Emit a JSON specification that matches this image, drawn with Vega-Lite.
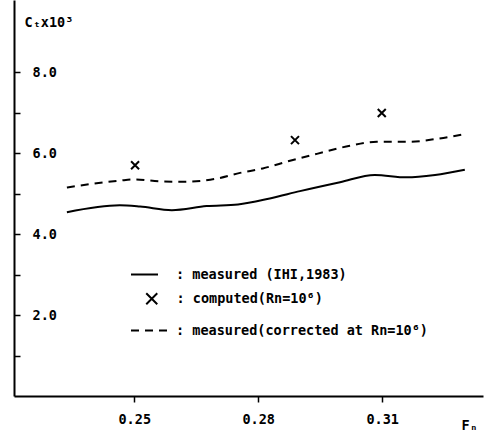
{
  "$schema": "https://vega.github.io/schema/vega-lite/v6.json",
  "width": 469,
  "height": 396,
  "autosize": "none",
  "padding": {"left": 14, "top": 0, "right": 3, "bottom": 44},
  "background": "white",
  "config": {
    "view": {"stroke": null},
    "font": "DejaVu Sans Mono",
    "axis": {"grid": false, "domainColor": "black", "domainWidth": 2, "tickColor": "black", "tickWidth": 1.5, "labelColor": "black", "labelFont": "DejaVu Sans Mono", "labelFontSize": 13.5, "labelFontWeight": "bold", "titleFont": "DejaVu Sans Mono", "titleFontWeight": "bold", "titleColor": "black"},
    "legend": {"padding": 0, "labelFont": "DejaVu Sans Mono", "labelFontSize": 13.5, "labelFontWeight": "bold", "labelColor": "black", "labelLimit": 0, "orient": "none", "title": null}
  },
  "datasets": {
    "rows": [
      {"Fn": 0.2337, "Ct": 4.54, "series": "measured (IHI,1983)"},
      {"Fn": 0.2465, "Ct": 4.71, "series": "measured (IHI,1983)"},
      {"Fn": 0.2514, "Ct": 4.68, "series": "measured (IHI,1983)"},
      {"Fn": 0.2591, "Ct": 4.59, "series": "measured (IHI,1983)"},
      {"Fn": 0.2675, "Ct": 4.69, "series": "measured (IHI,1983)"},
      {"Fn": 0.2751, "Ct": 4.73, "series": "measured (IHI,1983)"},
      {"Fn": 0.2828, "Ct": 4.88, "series": "measured (IHI,1983)"},
      {"Fn": 0.2901, "Ct": 5.06, "series": "measured (IHI,1983)"},
      {"Fn": 0.2998, "Ct": 5.28, "series": "measured (IHI,1983)"},
      {"Fn": 0.3082, "Ct": 5.46, "series": "measured (IHI,1983)"},
      {"Fn": 0.3159, "Ct": 5.40, "series": "measured (IHI,1983)"},
      {"Fn": 0.3228, "Ct": 5.46, "series": "measured (IHI,1983)"},
      {"Fn": 0.3300, "Ct": 5.59, "series": "measured (IHI,1983)"},
      {"Fn": 0.2502, "Ct": 5.70, "series": "computed(Rn=10⁶)"},
      {"Fn": 0.2889, "Ct": 6.32, "series": "computed(Rn=10⁶)"},
      {"Fn": 0.3099, "Ct": 6.99, "series": "computed(Rn=10⁶)"},
      {"Fn": 0.2337, "Ct": 5.15, "series": "measured(corrected at Rn=10⁶)"},
      {"Fn": 0.2465, "Ct": 5.32, "series": "measured(corrected at Rn=10⁶)"},
      {"Fn": 0.2502, "Ct": 5.35, "series": "measured(corrected at Rn=10⁶)"},
      {"Fn": 0.2562, "Ct": 5.30, "series": "measured(corrected at Rn=10⁶)"},
      {"Fn": 0.2618, "Ct": 5.29, "series": "measured(corrected at Rn=10⁶)"},
      {"Fn": 0.2695, "Ct": 5.36, "series": "measured(corrected at Rn=10⁶)"},
      {"Fn": 0.2756, "Ct": 5.51, "series": "measured(corrected at Rn=10⁶)"},
      {"Fn": 0.2811, "Ct": 5.62, "series": "measured(corrected at Rn=10⁶)"},
      {"Fn": 0.2877, "Ct": 5.81, "series": "measured(corrected at Rn=10⁶)"},
      {"Fn": 0.2942, "Ct": 5.98, "series": "measured(corrected at Rn=10⁶)"},
      {"Fn": 0.3022, "Ct": 6.18, "series": "measured(corrected at Rn=10⁶)"},
      {"Fn": 0.3087, "Ct": 6.28, "series": "measured(corrected at Rn=10⁶)"},
      {"Fn": 0.3167, "Ct": 6.28, "series": "measured(corrected at Rn=10⁶)"},
      {"Fn": 0.3232, "Ct": 6.35, "series": "measured(corrected at Rn=10⁶)"},
      {"Fn": 0.3300, "Ct": 6.47, "series": "measured(corrected at Rn=10⁶)"}
    ]
  },
  "data": {"name": "rows"},
  "encoding": {
    "x": {
      "field": "Fn", "type": "quantitative",
      "scale": {"domain": [0.2209, 0.3344], "nice": false, "zero": false},
      "axis": {"values": [0.25, 0.28, 0.31], "format": ".2f", "tickSize": 6, "labelPadding": 10, "title": "Fₙ", "titleFontSize": 13.5, "titleAnchor": "start", "titleAlign": "left", "titleX": 447, "titleY": 22, "titleBaseline": "top"}
    },
    "y": {
      "field": "Ct", "type": "quantitative",
      "scale": {"domain": [0, 9.78], "nice": false},
      "axis": {"values": [1, 2, 3, 4, 5, 6, 7, 8], "labelExpr": "datum.value % 2 == 0 ? format(datum.value, '.1f') : ''", "tickSize": -6, "labelAlign": "left", "labelPadding": -12, "title": "Cₜx10³", "titleAngle": 0, "titleAlign": "left", "titleBaseline": "middle", "titleFontSize": 13.5, "titleX": 10, "titleY": 22}
    }
  },
  "layer": [
    {
      "transform": [{"filter": "datum.series == 'measured (IHI,1983)'"}],
      "mark": {"type": "line", "interpolate": "monotone", "strokeWidth": 2},
      "encoding": {
        "color": {"field": "series", "type": "nominal", "scale": {"range": ["black"]},
          "legend": {"legendX": 116, "legendY": 260, "symbolType": "stroke", "symbolSize": 729, "symbolStrokeWidth": 2, "labelOffset": 17, "labelExpr": "': ' + datum.label"}}
      }
    },
    {
      "transform": [{"filter": "datum.series == 'measured(corrected at Rn=10⁶)'"}],
      "mark": {"type": "line", "interpolate": "monotone", "strokeWidth": 2, "color": "black"},
      "encoding": {
        "strokeDash": {"field": "series", "type": "nominal", "scale": {"range": [[8, 6]]},
          "legend": {"legendX": 116, "legendY": 311, "symbolType": "stroke", "symbolSize": 1369, "symbolStrokeWidth": 2, "symbolStrokeColor": "black", "labelOffset": 7, "labelExpr": "': ' + datum.label"}}
      }
    },
    {
      "transform": [{"filter": "datum.series == 'computed(Rn=10⁶)'"}],
      "mark": {"type": "point", "filled": false, "color": "black", "strokeWidth": 2, "size": 64, "opacity": 1},
      "encoding": {
        "shape": {"field": "series", "type": "nominal", "scale": {"range": ["M-1,-1L1,1M1,-1L-1,1"]},
          "legend": {"legendX": 131, "legendY": 292, "symbolSize": 121, "symbolStrokeWidth": 2, "symbolStrokeColor": "black", "symbolFillColor": "transparent", "symbolOpacity": 1, "labelOffset": 18, "labelExpr": "': ' + datum.label"}}
      }
    }
  ]
}
